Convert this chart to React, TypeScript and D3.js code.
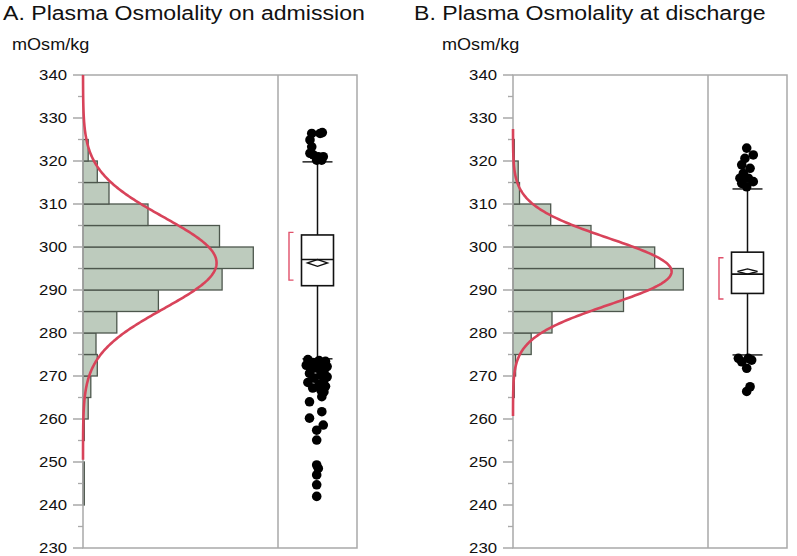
import React from 'react'
import * as d3 from 'd3'

// histogram bins (lower edge, width 5 mOsm/kg)
const binStarts = [240, 245, 250, 255, 260, 265, 270, 275, 280, 285, 290, 295, 300, 305, 310, 315, 320]
const countsA = [1, 1, 0, 1, 4, 6, 11, 10, 26, 58, 107, 131, 105, 50, 20, 11, 4]
const countsB = [0, 0, 0, 0, 0, 1, 2, 14, 30, 85, 131, 109, 60, 29, 5, 4, 1]

// normal fit (mean, sd) and range of the drawn curve
const fitA = { mean: 296.3, sd: 10.6, from: 250.5, to: 340 }
const fitB = { mean: 294.3, sd: 7.7, from: 260.7, to: 327.5 }

// box plot summaries
const boxA = { q1: 291, median: 297.1, q3: 302.8, lo: 274, hi: 319.8, mean: 296.3, ci: 0.8, shortLo: 292.3, shortHi: 303.4 }
const boxB = { q1: 289.2, median: 293.7, q3: 298.8, lo: 274.9, hi: 313.5, mean: 294.3, ci: 0.6, shortLo: 287.9, shortHi: 297.5 }

// outliers: value and horizontal jitter (fraction of half box width)
const outValuesA = [
  326.4, 326.4, 324.9, 323.3, 321.8, 321.4, 321, 321, 320.2, 320.2, 326.6,
  273.8, 273.6, 273.4, 273.1, 272.8, 272.5, 272.2, 271.8, 271.5, 271, 270.6, 270.2, 269.8, 269.5, 269, 268.5, 268, 267.6, 267.2, 266.8, 266.3,
  265.2, 264, 261.7, 260.2, 258.6, 257.4, 255.1, 249.3, 248.5, 247, 244.7, 242,
]
const outJitterA = [
  -0.36, 0.16, -0.47, -0.36, -0.47, -0.26, 0.05, 0.36, -0.05, 0.26, 0.3,
  -0.6, 0.1, 0.5, -0.3, 0.3, -0.7, 0.6, 0, -0.4, 0.4, -0.5, 0.2, 0.6, -0.2, 0.4, -0.6, 0.1, 0.5, -0.3, 0.2, 0.4,
  0.27, -0.5, 0.27, -0.5, 0.36, -0.05, -0.05, -0.05, 0.05, -0.05, -0.05, -0.05,
]
const outValuesB = [323, 321.4, 320.6, 319.1, 318.3, 317.1, 316, 316, 315.2, 314.8, 314, 274.1, 274.1, 273.3, 273.7, 271.8, 267.5, 266.4]
const outJitterB = [-0.05, 0.36, -0.16, -0.36, 0.16, -0.26, -0.47, 0.05, 0.36, -0.36, -0.05, -0.57, 0.05, -0.36, 0.26, -0.05, 0.16, -0.05]

const majorTicks = d3.range(230, 341, 10)
const minorTicks = d3.range(235, 340, 10)

const titles = ['A. Plasma Osmolality on admission', 'B. Plasma Osmolality at discharge']
const unitLabel = 'mOsm/kg'

const W = 797
const H = 556
const top = 75
const bottom = 548
const histW = 195
const boxW = 79
const font = 'Liberation Sans, Arial, sans-serif'

const y = d3.scaleLinear().domain([230, 340]).range([bottom, top])

// text that is a little wider than the font, like the source image
function WideText({ x, y, sx, size, anchor, dy, children }: any) {
  return (
    <g transform={`translate(${x},${y}) scale(${sx},1)`}>
      <text x={0} y={0} dy={dy} textAnchor={anchor} fontSize={size} fontFamily={font} fill="#111">{children}</text>
    </g>
  )
}

function Panel({ left, titleX, counts, fit, box, outV, outJ, title }: any) {
  const x = d3.scaleLinear().domain([0, 150]).range([left, left + histW])
  const divider = left + histW
  const right = divider + boxW
  const cx = divider + boxW / 2
  const half = 16
  const n = d3.sum(counts as number[])
  const dens = (v: number) => (n * 5) / (fit.sd * Math.sqrt(2 * Math.PI)) * Math.exp(-((v - fit.mean) ** 2) / (2 * fit.sd * fit.sd))
  const curvePts = d3.range(fit.from, fit.to + 0.01, 0.25).map(v => [x(dens(v)), y(v)] as [number, number])
  const line = d3.line()
  const frame = '#a9a9a9'
  return (
    <g>
      <WideText x={titleX} y={20} sx={1.1} size={21}>{title}</WideText>
      <WideText x={left - 71} y={50} sx={1.13} size={16}>{unitLabel}</WideText>
      {/* bars */}
      {counts.map((c: number, i: number) => c > 0 && (
        <rect key={i} x={x(0)} y={y(binStarts[i] + 5)} width={x(c) - x(0)} height={y(binStarts[i]) - y(binStarts[i] + 5)}
          fill="#bdcbbd" stroke="#4d574d" strokeWidth={1.3} />
      ))}
      {/* frame */}
      <rect x={left} y={top} width={right - left} height={bottom - top} fill="none" stroke={frame} strokeWidth={1.5} />
      <line x1={divider} x2={divider} y1={top} y2={bottom} stroke={frame} strokeWidth={1.5} />
      {/* axis ticks */}
      {majorTicks.map(t => (
        <g key={t}>
          <line x1={left - 10} x2={left} y1={y(t)} y2={y(t)} stroke={frame} strokeWidth={1.5} />
          <WideText x={left - 16} y={y(t)} dy="0.33em" anchor="end" sx={1.08} size={15.5}>{t}</WideText>
        </g>
      ))}
      {minorTicks.map(t => (
        <line key={t} x1={left - 5} x2={left} y1={y(t)} y2={y(t)} stroke={frame} strokeWidth={1.3} />
      ))}
      {/* normal curve */}
      <path d={line(curvePts) ?? ''} fill="none" stroke="#d8435a" strokeWidth={2.6} />
      {/* shortest half bracket */}
      <path d={`M${cx - 24},${y(box.shortHi)}H${cx - 28.5}V${y(box.shortLo)}H${cx - 24}`} fill="none" stroke="#e0506a" strokeWidth={1.4} />
      {/* whiskers */}
      <line x1={cx} x2={cx} y1={y(box.hi)} y2={y(box.lo)} stroke="#111" strokeWidth={1.5} />
      <line x1={cx - 15} x2={cx + 15} y1={y(box.hi)} y2={y(box.hi)} stroke="#222" strokeWidth={1.5} />
      <line x1={cx - 15} x2={cx + 15} y1={y(box.lo)} y2={y(box.lo)} stroke="#222" strokeWidth={1.5} />
      {/* box */}
      <rect x={cx - half} y={y(box.q3)} width={half * 2} height={y(box.q1) - y(box.q3)} fill="#fff" stroke="#111" strokeWidth={1.6} />
      <line x1={cx - half} x2={cx + half} y1={y(box.median)} y2={y(box.median)} stroke="#111" strokeWidth={1.6} />
      <path d={`M${cx - 10},${y(box.mean)}L${cx},${y(box.mean + box.ci)}L${cx + 10},${y(box.mean)}L${cx},${y(box.mean - box.ci)}Z`}
        fill="none" stroke="#111" strokeWidth={1.4} />
      {/* outliers */}
      {outV.map((v: number, i: number) => (
        <circle key={i} cx={cx + outJ[i] * half} cy={y(v)} r={4.8} fill="#000" />
      ))}
    </g>
  )
}

export default function App() {
  return (
    <svg width={W} height={H} style={{ position: 'absolute', left: 0, top: 0, background: '#fff' }}>
      <Panel left={83} titleX={3} counts={countsA} fit={fitA} box={boxA} outV={outValuesA} outJ={outJitterA} title={titles[0]} />
      <Panel left={513} titleX={414} counts={countsB} fit={fitB} box={boxB} outV={outValuesB} outJ={outJitterB} title={titles[1]} />
    </svg>
  )
}
